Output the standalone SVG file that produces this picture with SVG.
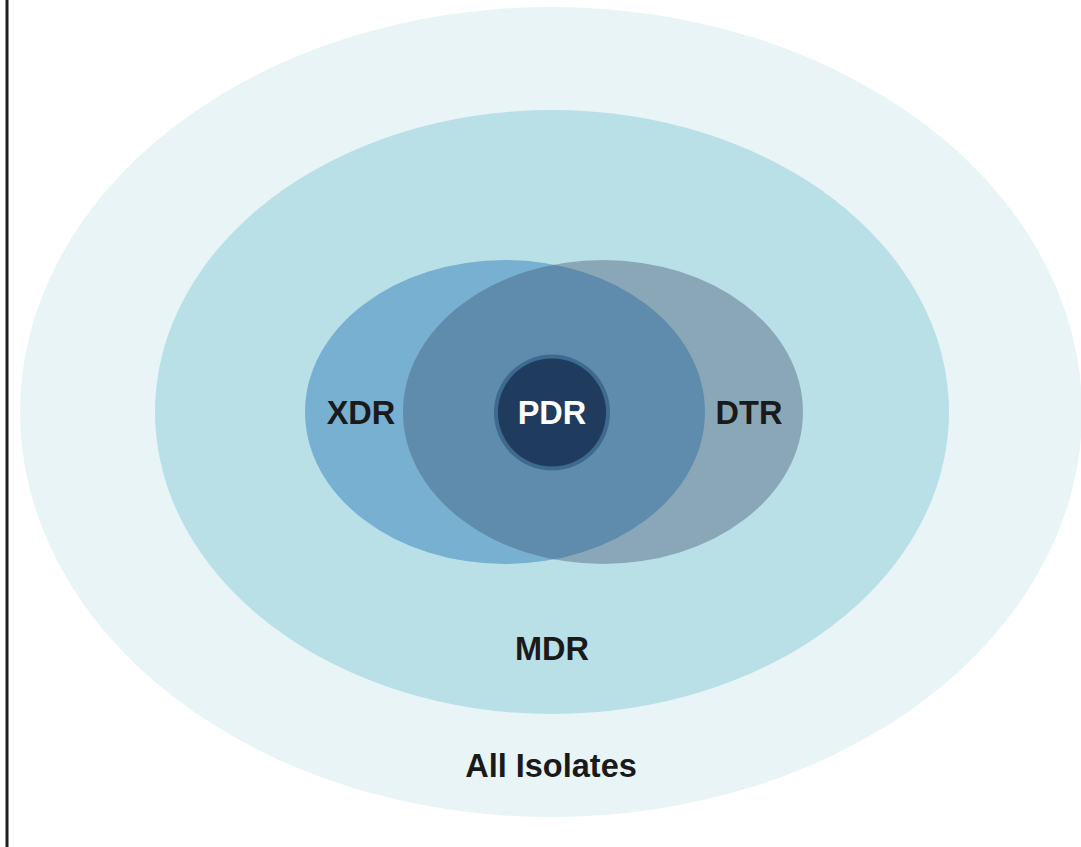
<svg xmlns="http://www.w3.org/2000/svg" width="1081" height="847" viewBox="0 0 1081 847">
<style>
.lbl{font-family:"Liberation Sans",Arial,Helvetica,sans-serif;font-weight:bold;font-size:32.5px;fill:#1a1a1a;text-anchor:middle}
.w{fill:#ffffff}
</style>
<defs>
<clipPath id="xdrClip"><ellipse cx="505" cy="412" rx="200" ry="152"/></clipPath>
</defs>
<rect x="0" y="0" width="1081" height="847" fill="#ffffff"/>
<line x1="7" y1="0" x2="7" y2="847" stroke="#1e1e1e" stroke-width="3"/>
<g id="all-isolates">
<ellipse cx="551" cy="412" rx="531" ry="405" fill="#E8F4F6"/>
<text class="lbl" x="551" y="777">All Isolates</text>
</g>
<g id="mdr">
<ellipse cx="552" cy="412" rx="397" ry="302" fill="#B9E0E7"/>
<text class="lbl" x="552" y="660">MDR</text>
</g>
<g id="xdr">
<ellipse cx="505" cy="412" rx="200" ry="152" fill="#77B0D1"/>
<text class="lbl" x="361" y="424">XDR</text>
</g>
<g id="dtr">
<ellipse cx="603" cy="412" rx="200" ry="152" fill="#8AA7B7"/>
<ellipse cx="603" cy="412" rx="200" ry="152" fill="#5F8CAD" clip-path="url(#xdrClip)"/>
<text class="lbl" x="749" y="424">DTR</text>
</g>
<g id="pdr">
<circle cx="552" cy="412.5" r="58" fill="#3D6A8E"/>
<circle cx="552" cy="412.5" r="54" fill="#1F3C5E"/>
<text class="lbl w" x="552" y="424">PDR</text>
</g>
<g id="connectors"></g>
</svg>
